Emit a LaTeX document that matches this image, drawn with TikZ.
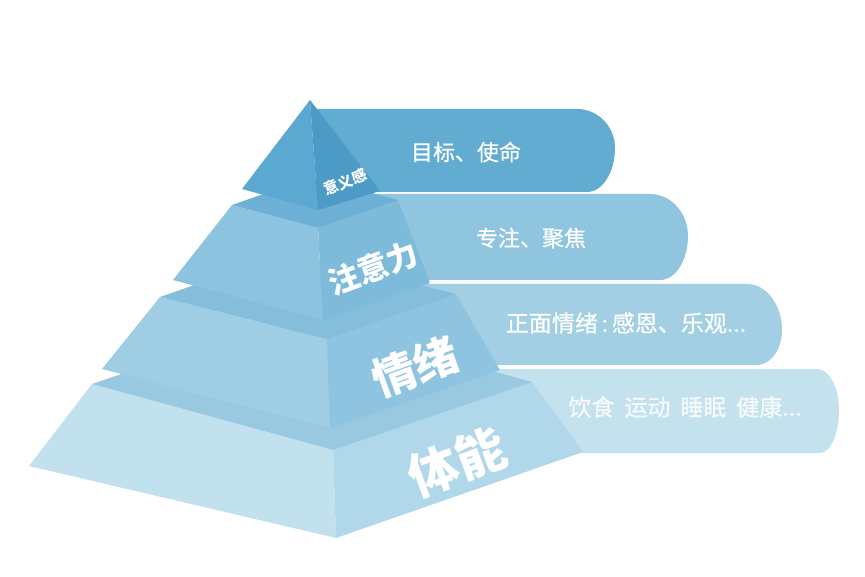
\documentclass[tikz,border=0pt]{standalone}
\usepackage{fontspec}
\newfontfamily\cjk{Noto Sans CJK SC}
\newfontfamily\cjkm[FakeBold=0.5]{Noto Sans CJK SC}
\definecolor{ban1}{HTML}{62ABD1}
\definecolor{ban2}{HTML}{8FC5DF}
\definecolor{ban3}{HTML}{A2CFE4}
\definecolor{ban4}{HTML}{C4E2EE}
\definecolor{t1L}{HTML}{5BA8D0}
\definecolor{t1R}{HTML}{4B9BC6}
\definecolor{t2T}{HTML}{6CB1D5}
\definecolor{t2L}{HTML}{8CC4DF}
\definecolor{t2R}{HTML}{7EBBDB}
\definecolor{t3T}{HTML}{84BEDB}
\definecolor{t3L}{HTML}{9FCDE4}
\definecolor{t3R}{HTML}{8EC4DF}
\definecolor{t4T}{HTML}{99C9E1}
\definecolor{t4L}{HTML}{C2E1EE}
\definecolor{t4R}{HTML}{B0D7EA}
\tikzset{
  bantext/.style={text=white, font=\cjkm\fontsize{22}{26}\selectfont, inner sep=0pt},
  tierlabel/.style={text=white, font=\cjk\bfseries, inner sep=0pt}
}
\begin{document}
\begin{tikzpicture}[x=1pt,y=-1pt]
\useasboundingbox (0,0) rectangle (865,577);
\fill[white] (0,0) rectangle (865,577);
% ---- banners (behind the pyramid)
\fill[ban1] (314,109) -- (577,109) .. controls (598,109) and (615,126.5) .. (615,148)
  .. controls (615,172.3) and (602.5,192) .. (587,192) -- (318,192) -- cycle;
\fill[ban2] (320,194) -- (650,194) .. controls (671,194) and (688,212.8) .. (688,236)
  .. controls (688,260.3) and (675.5,280) .. (660,280) -- (322,280) -- cycle;
\fill[ban3] (326,284) -- (747,284) .. controls (766.3,284) and (782,304.6) .. (782,330)
  .. controls (782,349.3) and (770.8,365) .. (757,365) -- (329,365) -- cycle;
\fill[ban4] (332,369) -- (817,369) .. controls (829.1,369) and (839,387.4) .. (839,410)
  .. controls (839,433.7) and (830.5,453) .. (820,453) -- (336,453) -- cycle;
% ---- tier 4
\coordinate (B4L) at (29,466);  \coordinate (B4F) at (336,538); \coordinate (B4R) at (583,452);
\coordinate (T4L) at (92,384);  \coordinate (T4F) at (333,450); \coordinate (T4R) at (532,382);
\coordinate (T4B) at (291,316);
\fill[t4L] (B4L) -- (B4F) -- (T4F) -- (T4L) -- cycle;
\fill[t4R] (B4F) -- (B4R) -- (T4R) -- (T4F) -- cycle;
\fill[t4T] (T4L) -- (T4F) -- (T4R) -- (T4B) -- cycle;
% ---- tier 3
\coordinate (B3L) at (102,369); \coordinate (B3F) at (330,428); \coordinate (B3R) at (500,370);
\coordinate (T3L) at (160,297); \coordinate (T3F) at (327,339); \coordinate (T3R) at (456,294);
\coordinate (T3B) at (289,252);
\fill[t3L] (B3L) -- (B3F) -- (T3F) -- (T3L) -- cycle;
\fill[t3R] (B3F) -- (B3R) -- (T3R) -- (T3F) -- cycle;
\fill[t3T] (T3L) -- (T3F) -- (T3R) -- (T3B) -- cycle;
% ---- tier 2
\coordinate (B2L) at (173,280); \coordinate (B2F) at (323,320); \coordinate (B2R) at (430,283);
\coordinate (T2L) at (232,205); \coordinate (T2F) at (318,228); \coordinate (T2R) at (398,200);
\coordinate (T2B) at (312,177);
\fill[t2L] (B2L) -- (B2F) -- (T2F) -- (T2L) -- cycle;
\fill[t2R] (B2F) -- (B2R) -- (T2R) -- (T2F) -- cycle;
\fill[t2T] (T2L) -- (T2F) -- (T2R) -- (T2B) -- cycle;
% ---- tier 1 (apex)
\coordinate (A) at (310,100);
\coordinate (B1L) at (242,189); \coordinate (B1F) at (318,210); \coordinate (B1R) at (380,191);
\fill[t1L] (A) -- (B1L) -- (B1F) -- cycle;
\fill[t1R] (A) -- (B1F) -- (B1R) -- cycle;
% ---- pyramid labels
\node[tierlabel, font=\cjk\bfseries\fontsize{15}{15}\selectfont, rotate=22] (l1) at (345,182) {意义感};
\node[tierlabel, font=\cjk\bfseries\fontsize{31}{31}\selectfont, rotate=20] (l2) at (373,268) {注意力};
\node[tierlabel, font=\cjk\bfseries\fontsize{44}{44}\selectfont, rotate=20] (l3) at (415,367) {情绪};
\node[tierlabel, font=\cjk\bfseries\fontsize{50}{50}\selectfont, rotate=20] (l4) at (457,462) {体能};
% ---- banner texts
\node[bantext] (b1) at (466,152) {目标、使命};
\node[bantext] (b2) at (531,238) {专注、聚焦};
\node[bantext, font=\cjkm\fontsize{23}{26}\selectfont] (b3) at (626,323) {正面情绪\,:\,感恩、乐观...};
\node[bantext, font=\cjkm\fontsize{23}{26}\selectfont, text opacity=0.85] (b4) at (685,407)
  {饮食\hspace{10pt}运动\hspace{10pt}睡眠\hspace{10pt}健康...};
\end{tikzpicture}
\end{document}
